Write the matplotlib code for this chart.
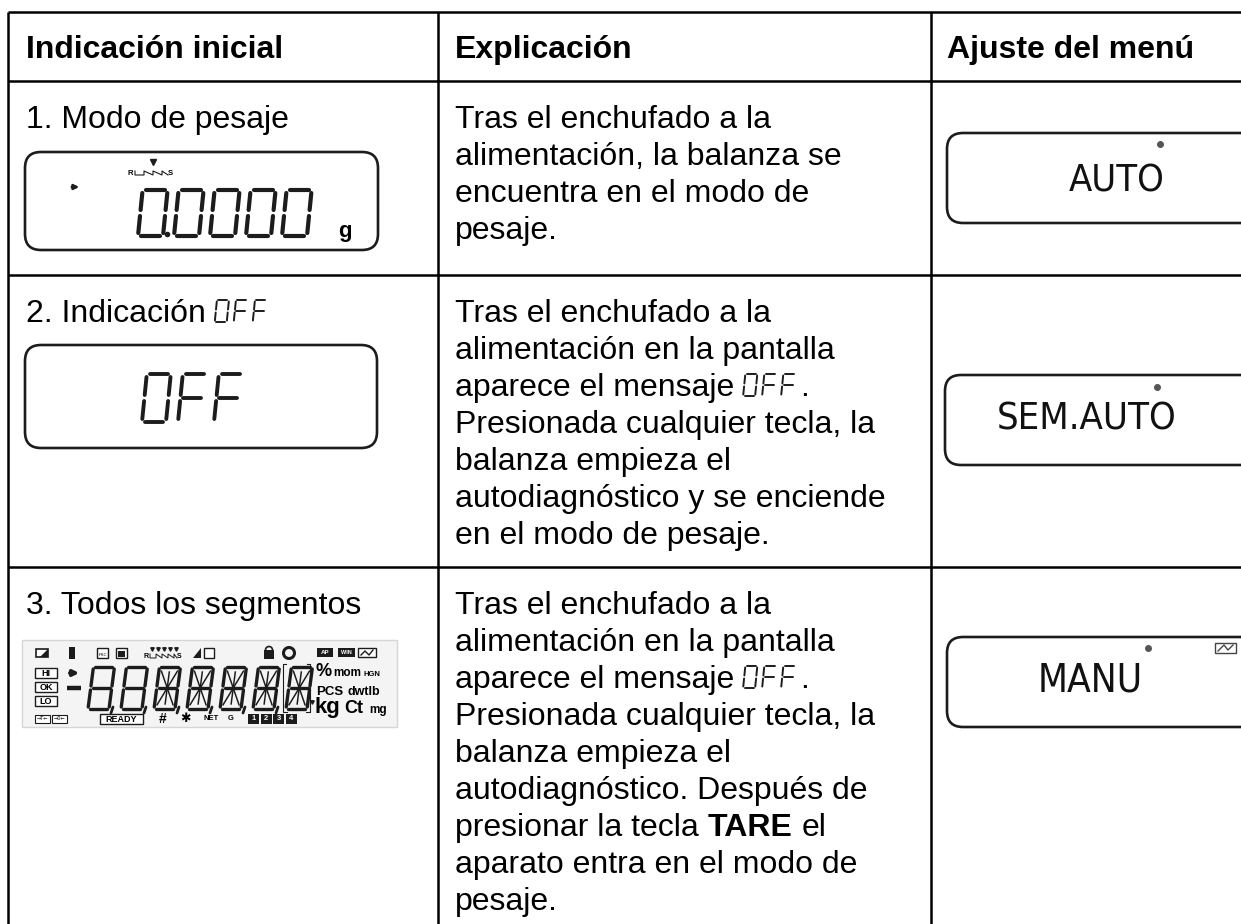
import re
import matplotlib
matplotlib.use("Agg")
import matplotlib.pyplot as plt
from matplotlib.patches import FancyBboxPatch, Rectangle, Polygon, Circle
from matplotlib.font_manager import FontProperties, fontManager

plt.rcParams['font.family'] = ['Liberation Sans', 'DejaVu Sans']

W, H = 1241, 924
FS = 23          # body font size (pt)
LINE_H = 37      # line pitch in px
DARK = "#1c1c1c"

# ---- table content ----
headers = ["Indicación inicial", "Explicación", "Ajuste del menú"]
row_labels = ["1. Modo de pesaje", "2. Indicación {OFF}", "3. Todos los segmentos"]
expl_rows = [
    ["Tras el enchufado a la",
     "alimentación, la balanza se",
     "encuentra en el modo de",
     "pesaje."],
    ["Tras el enchufado a la",
     "alimentación en la pantalla",
     "aparece el mensaje {OFF}.",
     "Presionada cualquier tecla, la",
     "balanza empieza el",
     "autodiagnóstico y se enciende",
     "en el modo de pesaje."],
    ["Tras el enchufado a la",
     "alimentación en la pantalla",
     "aparece el mensaje {OFF}.",
     "Presionada cualquier tecla, la",
     "balanza empieza el",
     "autodiagnóstico. Después de",
     "presionar la tecla *TARE* el",
     "aparato entra en el modo de",
     "pesaje."],
]
menu_values = ["AUTO", "SEM.AUTO", "MANU"]
display_values = ["0.0000", "OFF"]
all_segments = "8888888"

# ---- layout (px) ----
col_x = [8, 438, 931]
row_y = [12, 81, 275, 567]
text_x = [26, 455, 947]
first_base = 47   # baseline offset from row top

# narrowest regular face available for the LCD style text
STRETCH_RANK = {'ultra-condensed': 0, 'extra-condensed': 1, 'condensed': 2,
                'semi-condensed': 3, 50: 0, 62: 1, 75: 2, 87: 3}
narrow_fp = FontProperties(family='Liberation Sans')
best = 99
for f in fontManager.ttflist:
    if f.name == 'Liberation Sans Narrow':
        rank = 2
    else:
        rank = STRETCH_RANK.get(f.stretch, 99)
    if rank < best and f.weight in (400, 'normal', 'regular') and f.style == 'normal':
        best = rank
        narrow_fp = FontProperties(fname=f.fname)

SEGS = {"0": "abcdef", "O": "abcdef", "8": "abcdefg", "F": "aefg"}
SEG_LINES = {"a": ((0, 1), (1, 1)), "b": ((1, 1), (1, .5)), "c": ((1, .5), (1, 0)),
             "d": ((0, 0), (1, 0)), "e": ((0, 0), (0, .5)), "f": ((0, .5), (0, 1)),
             "g": ((0, .5), (1, .5))}

fig = plt.figure(figsize=(12.41, 9.24), dpi=100)
ax = fig.add_axes([0, 0, 1, 1])
ax.set_xlim(0, W)
ax.set_ylim(H, 0)
ax.axis('off')
renderer = fig.canvas.get_renderer()


def seven_seg(ch, x, base, w, h, lw, slant=0.12, gap=2.5, diag=False):
    for s in SEGS[ch]:
        (u0, v0), (u1, v1) = SEG_LINES[s]
        p0 = [u0 * w, v0 * h]
        p1 = [u1 * w, v1 * h]
        k = 0 if u0 != u1 else 1
        sgn = 1 if p1[k] > p0[k] else -1
        p0[k] += sgn * gap
        p1[k] -= sgn * gap
        xs = [x + p[0] + slant * p[1] for p in (p0, p1)]
        ys = [base - p[1] for p in (p0, p1)]
        ax.plot(xs, ys, color=DARK, lw=lw, solid_capstyle='round')
    if diag:
        for (u0, v0), (u1, v1) in [((.5, .5), (.12, .9)), ((.5, .5), (.88, .9)),
                                   ((.5, .5), (.12, .1)), ((.5, .5), (.88, .1)),
                                   ((.5, .12), (.5, .88))]:
            xs = [x + u * w + slant * v * h for u, v in ((u0, v0), (u1, v1))]
            ys = [base - v * h for v in (v0, v1)]
            ax.plot(xs, ys, color=DARK, lw=lw * 0.45)


def text_width(t):
    return t.get_window_extent(renderer).width


def fit_text(x, y, s, width, max_size, fp, **kw):
    t = ax.text(x, y, s, fontproperties=fp, **kw)
    t.set_fontsize(max_size)
    wd = text_width(t)
    if wd > width:
        t.set_fontsize(max_size * width / wd)
    return t


tmp1 = ax.text(0, 0, "a a", fontsize=FS)
tmp2 = ax.text(0, 0, "aa", fontsize=FS)
SPACE = text_width(tmp1) - text_width(tmp2)
tmp1.remove()
tmp2.remove()

TOKEN = re.compile(r"(\{[^}]*\}|\*[^*]*\*)")


def draw_line(x, base, line):
    for p in [q for q in TOKEN.split(line) if q]:
        if p.startswith("{"):
            for ch in p[1:-1]:
                seven_seg(ch, x, base, 12, 22, 1.4, slant=0.1, gap=1.5)
                x += 19
            continue
        bold = p.startswith("*")
        txt = p.strip("*") if bold else p
        x += (len(txt) - len(txt.lstrip(" "))) * SPACE
        core = txt.strip(" ")
        if core:
            t = ax.text(x, base, core, fontsize=FS, ha='left', va='baseline',
                        fontweight='bold' if bold else 'normal')
            x += text_width(t)
        x += (len(txt) - len(txt.rstrip(" "))) * SPACE


# ---- grid ----
for y in row_y:
    ax.plot([col_x[0], W + 5], [y, y], color='black', lw=1.8, solid_capstyle='butt')
for x in col_x:
    ax.plot([x, x], [row_y[0], H + 5], color='black', lw=1.8, solid_capstyle='butt')

# ---- header ----
for x, h in zip(text_x, headers):
    ax.text(x, row_y[0] + 46, h, fontsize=FS, fontweight='bold', ha='left', va='baseline')

# ---- body text ----
for i in range(3):
    top = row_y[i + 1]
    draw_line(text_x[0], top + first_base, row_labels[i])
    for j, line in enumerate(expl_rows[i]):
        draw_line(text_x[1], top + first_base + j * LINE_H, line)


def lcd_box(x0, y0, x1, y1):
    ax.add_patch(FancyBboxPatch((x0, y0), x1 - x0, y1 - y0,
                                boxstyle="round,pad=0,rounding_size=16",
                                fc='white', ec=DARK, lw=1.9))


# ---- display 1: weighing mode ----
lcd_box(25, 152, 378, 250)
for k, ch in enumerate(display_values[0].replace(".", "")):
    seven_seg(ch, 138 + k * 36, 236, 25, 46, 3.0, slant=0.1, gap=3)
ax.plot(167, 234, 'o', ms=3, color=DARK)
ax.annotate("", xy=(82, 187), xytext=(69, 187),
            arrowprops=dict(arrowstyle="-|>", lw=1.8, color=DARK, mutation_scale=7))
ax.text(128, 175, "R", fontsize=5.5, fontweight='bold', va='baseline')
ax.plot([135, 135, 144, 144, 153, 153, 162, 162, 168],
        [171, 175, 175, 171, 175, 171, 175, 171, 175], color=DARK, lw=0.8)
ax.plot(153, 162, 'v', ms=4, color=DARK)
ax.text(168, 175, "S", fontsize=5.5, fontweight='bold', va='baseline')
ax.text(338, 237, "g", fontsize=16, fontweight='bold', va='baseline')

# ---- display 2: OFF ----
lcd_box(25, 345, 377, 448)
for k, ch in enumerate(display_values[1]):
    seven_seg(ch, 142 + k * 36, 422, 24, 48, 2.8, slant=0.1, gap=3)

# ---- display 3: all segments panel ----
ax.add_patch(Rectangle((22, 640), 375, 87, fc="#f4f4f4", ec="#d6d6d6", lw=1))
# top icon row
ax.add_patch(Rectangle((36, 649), 12, 8, fc='white', ec=DARK, lw=1.2))
ax.add_patch(Polygon([[40, 657], [48, 649], [48, 657]], fc=DARK))
ax.add_patch(Rectangle((69, 647), 6, 12, fc=DARK))
ax.add_patch(Rectangle((97, 648), 11, 10, fc='white', ec=DARK, lw=1))
ax.text(102.5, 655, "PSC", fontsize=3, ha='center', va='center')
ax.add_patch(Rectangle((116, 648), 11, 10, fc='white', ec=DARK, lw=1))
ax.add_patch(Rectangle((118, 651), 7, 6, fc=DARK))
ax.text(144, 658, "R", fontsize=5, fontweight='bold', va='baseline')
ax.plot([150, 150, 156, 156, 162, 162, 168, 168, 174, 174, 177],
        [654, 658, 658, 654, 658, 654, 658, 654, 658, 654, 658], color=DARK, lw=0.7)
ax.plot([152, 158, 164, 170, 176], [649] * 5, 'v', ms=2.5, color=DARK)
ax.text(177, 658, "S", fontsize=5, fontweight='bold', va='baseline')
ax.add_patch(Polygon([[193, 658], [201, 648], [201, 658]], fc=DARK))
ax.add_patch(Rectangle((204, 648), 10, 10, fc='white', ec=DARK, lw=1))
ax.add_patch(Rectangle((264, 650), 10, 9, fc=DARK))
ax.add_patch(Circle((269, 650), 3.5, fc='none', ec=DARK, lw=1.2))
ax.add_patch(Circle((289, 653), 5.5, fc='none', ec=DARK, lw=2.2))
ax.add_patch(Rectangle((317, 648), 16, 9, fc=DARK))
ax.text(325, 653, "AP", fontsize=4.5, color='white', fontweight='bold', ha='center', va='center')
ax.add_patch(Rectangle((338, 648), 17, 9, fc=DARK))
ax.text(346.5, 653, "WIN", fontsize=4, color='white', fontweight='bold', ha='center', va='center')
ax.add_patch(Rectangle((358, 648), 18, 9, fc='white', ec=DARK, lw=1))
ax.plot([361, 365, 369, 373], [655, 651, 655, 650], color=DARK, lw=1)
# HI / OK / LO
for yy, lab in zip([673, 687, 701], ["HI", "OK", "LO"]):
    ax.add_patch(Rectangle((35, yy - 5), 22, 10, fc='white', ec=DARK, lw=1))
    ax.text(46, yy, lab, fontsize=6.5, fontweight='bold', ha='center', va='center')
ax.annotate("", xy=(82, 673), xytext=(67, 673),
            arrowprops=dict(arrowstyle="-|>", lw=2.6, color=DARK, mutation_scale=8))
ax.plot([67, 81], [688, 688], color=DARK, lw=3.2, solid_capstyle='butt')
# digits
for k, ch in enumerate(all_segments):
    x = 88 + k * 33
    seven_seg(ch, x, 709, 21, 42, 2.4, slant=0.13, gap=2, diag=k >= 2)
    if k < len(all_segments) - 1:
        ax.plot([x + 25, x + 23], [707, 713], color=DARK, lw=2, solid_capstyle='round')
ax.plot([286, 283, 283, 287], [664, 664, 712, 712], color=DARK, lw=0.8)
ax.plot([307, 310, 310, 306], [664, 664, 712, 712], color=DARK, lw=0.8)
ax.plot(312, 702, 'v', ms=2.5, color=DARK)
# unit labels
ax.text(316, 676, "%", fontsize=13, fontweight='bold', va='baseline')
ax.text(333, 676, "mom", fontsize=8.5, fontweight='bold', va='baseline')
ax.text(364, 676, "HGN", fontsize=5.5, fontweight='bold', va='baseline')
ax.text(316, 695, "PCS", fontsize=9.5, fontweight='bold', va='baseline')
ax.text(347, 695, "dwtlb", fontsize=9, fontweight='bold', va='baseline')
ax.text(314, 713, "kg", fontsize=16, fontweight='bold', va='baseline')
ax.text(344, 713, "Ct", fontsize=13, fontweight='bold', va='baseline')
ax.text(369, 713, "mg", fontsize=8.5, fontweight='bold', va='baseline')
# bottom row
for xx, lab in [(35, "→T←"), (52, "→0←")]:
    ax.add_patch(Rectangle((xx, 715), 15, 8, fc='white', ec=DARK, lw=0.8))
    ax.text(xx + 7.5, 719, lab, fontsize=3.6, ha='center', va='center', family=['DejaVu Sans'])
ax.add_patch(Rectangle((100, 714), 43, 10, fc='white', ec=DARK, lw=1))
ax.text(121.5, 719, "READY", fontsize=6.5, fontweight='bold', ha='center', va='center')
ax.text(163, 719, "#", fontsize=10, fontweight='bold', ha='center', va='center')
ax.text(185, 719, "✱", fontsize=9, ha='center', va='center', family=['DejaVu Sans'])
ax.text(204, 719, "NET", fontsize=5.5, fontweight='bold', va='center')
ax.text(228, 719, "G", fontsize=5.5, fontweight='bold', va='center')
for k, d in enumerate("1234"):
    ax.add_patch(Rectangle((248 + k * 12.5, 714), 11, 10, fc=DARK))
    ax.text(253.5 + k * 12.5, 719, d, fontsize=5.5, color='white', fontweight='bold',
            ha='center', va='center')

# ---- menu setting displays ----
menu_boxes = [(947, 133, 223), (945, 375, 465), (947, 637, 727)]
menu_text = [(1117, 181), (1087, 420), (1090, 681)]
menu_width = [96, 180, 105]
menu_dot = [(1160, 144), (1157, 387), (1148, 648)]
for val, (x0, y0, y1), (tx, ty), wd, (dx, dy) in zip(menu_values, menu_boxes, menu_text,
                                                      menu_width, menu_dot):
    lcd_box(x0, y0, W + 20, y1)
    fit_text(tx, ty, val, wd, 37, narrow_fp, ha='center', va='center', color='#111111')
    ax.plot(dx, dy, 'o', ms=4, color='#555555')
ax.add_patch(Rectangle((1215, 643), 21, 10, fc='white', ec='#444444', lw=1))
ax.plot([1218, 1224, 1228, 1233], [651, 645, 650, 645], color='#444444', lw=1)

fig.savefig("out.png", dpi=100)
